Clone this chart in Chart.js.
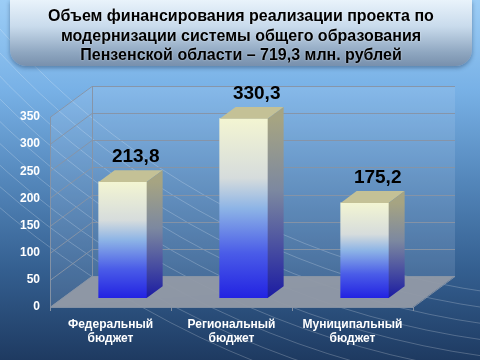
<!DOCTYPE html>
<html lang="ru">
<head>
    <meta charset="UTF-8">
    <title>Объем финансирования</title>
    <script src="https://cdn.jsdelivr.net/npm/chart.js"></script>
    <style>
        html, body {
            margin: 0;
            padding: 0;
        }

        #slide {
            position: relative;
            width: 480px;
            height: 360px;
            overflow: hidden;
            background: linear-gradient(to bottom, #9ccdf6 0%, #78b1e6 25%, #5487bb 50%, #345f90 75%, #1e3a61 100%);
            font-family: "Liberation Sans", Arial, sans-serif;
        }

        #title {
            position: absolute;
            left: 10px;
            top: 0;
            width: 462px;
            height: 66px;
            box-sizing: border-box;
            padding-top: 6px;
            border-radius: 0 0 16px 16px;
            background: linear-gradient(to bottom, #e9f3fb 0%, #c9dbec 40%, #8ea6c0 80%, #7890ad 100%);
            box-shadow: 0 2px 4px rgba(20, 40, 70, 0.4);
            text-align: center;
            font-weight: bold;
            font-size: 16px;
            line-height: 19.7px;
            color: #000;
            text-shadow: 0 0 2px rgba(255, 255, 255, 0.6);
        }

        canvas {
            position: absolute;
            left: 0;
            top: 0;
        }
    </style>
</head>
<body>
<div id="slide">
    <canvas id="fundChart" width="480" height="360"></canvas>
    <div id="title">Объем финансирования реализации проекта по<br>модернизации системы общего образования<br>Пензенской области – 719,3 млн. рублей</div>
</div>

<script>
    // chart data
    const categories = [['Федеральный', 'бюджет'], ['Региональный', 'бюджет'], ['Муниципальный', 'бюджет']];
    const amounts = [213.8, 330.3, 175.2];
    const valueLabels = ['213,8', '330,3', '175,2'];
    const yTicks = [0, 50, 100, 150, 200, 250, 300, 350];

    // 3d look: wall depth and where the bars sit inside it
    const DX = 42, DY = -31;
    const BAR_SHIFT = 0.29, BAR_DEPTH = 0.38;

    function frontGradient(ctx, top, bottom) {
        const g = ctx.createLinearGradient(0, top, 0, bottom);
        g.addColorStop(0, '#f3f5d2');
        g.addColorStop(0.33, '#d6dcdc');
        g.addColorStop(0.5, '#8db4e6');
        g.addColorStop(0.75, '#4a5ce8');
        g.addColorStop(1, '#2222e2');
        return g;
    }

    const swooshes = {
        id: 'swooshes',
        beforeDraw(chart) {
            const ctx = chart.ctx;
            ctx.save();
            ctx.strokeStyle = 'rgba(255,255,255,0.22)';
            ctx.lineWidth = 1;
            for (let i = 0; i < 9; i++) {
                ctx.beginPath();
                ctx.arc(600, -500, 800 + i * 16, Math.PI * 0.5, Math.PI * 0.85);
                ctx.stroke();
            }
            ctx.restore();
        }
    };

    const box3d = {
        id: 'box3d',
        beforeDatasetsDraw(chart) {
            const ctx = chart.ctx;
            const a = chart.chartArea;
            const y = chart.scales.y;
            ctx.save();
            // left wall and back wall
            ctx.fillStyle = 'rgba(210,230,250,0.14)';
            ctx.beginPath();
            ctx.moveTo(a.left, a.top);
            ctx.lineTo(a.left + DX, a.top + DY);
            ctx.lineTo(a.right + DX, a.top + DY);
            ctx.lineTo(a.right + DX, a.bottom + DY);
            ctx.lineTo(a.left, a.bottom);
            ctx.closePath();
            ctx.fill();
            // floor
            ctx.fillStyle = 'rgba(146,154,166,0.95)';
            ctx.beginPath();
            ctx.moveTo(a.left, a.bottom);
            ctx.lineTo(a.right, a.bottom);
            ctx.lineTo(a.right + DX, a.bottom + DY);
            ctx.lineTo(a.left + DX, a.bottom + DY);
            ctx.closePath();
            ctx.fill();
            // grid lines
            ctx.strokeStyle = 'rgba(135,148,165,0.95)';
            ctx.lineWidth = 1;
            yTicks.forEach(v => {
                const py = Math.round(y.getPixelForValue(v)) + 0.5;
                ctx.beginPath();
                ctx.moveTo(a.left, py);
                ctx.lineTo(a.left + DX, py + DY);
                ctx.lineTo(a.right + DX, py + DY);
                ctx.stroke();
            });
            ctx.beginPath();
            ctx.moveTo(a.left + 0.5, a.top);
            ctx.lineTo(a.left + 0.5, a.bottom + 4);
            ctx.moveTo(a.left + DX + 0.5, a.top + DY);
            ctx.lineTo(a.left + DX + 0.5, a.bottom + DY);
            ctx.moveTo(a.left, a.bottom + 0.5);
            ctx.lineTo(a.right, a.bottom + 0.5);
            ctx.lineTo(a.right + DX, a.bottom + DY + 0.5);
            ctx.stroke();
            // category separators on the front edge
            for (let i = 0; i <= categories.length; i++) {
                const px = Math.round(a.left + (a.right - a.left) * i / categories.length) + 0.5;
                ctx.beginPath();
                ctx.moveTo(px, a.bottom);
                ctx.lineTo(px, a.bottom + 4);
                ctx.stroke();
            }
            // move bars into the middle of the box
            ctx.restore();
            ctx.save();
            ctx.translate(DX * BAR_SHIFT, DY * BAR_SHIFT);
        },
        afterDatasetsDraw(chart) {
            const ctx = chart.ctx;
            const bdx = DX * BAR_DEPTH, bdy = DY * BAR_DEPTH;
            chart.getDatasetMeta(0).data.forEach((bar, i) => {
                const l = bar.x - bar.width / 2, r = bar.x + bar.width / 2;
                // top face
                ctx.fillStyle = '#c4c196';
                ctx.beginPath();
                ctx.moveTo(l, bar.y);
                ctx.lineTo(r, bar.y);
                ctx.lineTo(r + bdx, bar.y + bdy);
                ctx.lineTo(l + bdx, bar.y + bdy);
                ctx.closePath();
                ctx.fill();
                // side face
                const g = ctx.createLinearGradient(0, bar.y, 0, bar.base);
                g.addColorStop(0, '#a6a482');
                g.addColorStop(0.4, '#7c88a0');
                g.addColorStop(1, '#1b1ba2');
                ctx.fillStyle = g;
                ctx.beginPath();
                ctx.moveTo(r, bar.y);
                ctx.lineTo(r + bdx, bar.y + bdy);
                ctx.lineTo(r + bdx, bar.base + bdy);
                ctx.lineTo(r, bar.base);
                ctx.closePath();
                ctx.fill();
                // value label
                ctx.fillStyle = '#000';
                ctx.font = 'bold 19px "Liberation Sans", Arial, sans-serif';
                ctx.textAlign = 'center';
                ctx.textBaseline = 'middle';
                ctx.fillText(valueLabels[i], bar.x + 13, bar.y - 25);
            });
            ctx.restore();
        }
    };

    new Chart(document.getElementById('fundChart'), {
        type: 'bar',
        data: {
            labels: categories,
            datasets: [{
                data: amounts,
                barThickness: 48,
                borderWidth: 0,
                backgroundColor: (c) => {
                    const y = c.chart.scales.y;
                    if (!y || c.raw === undefined) return '#4a5ce8';
                    const top = y.getPixelForValue(c.raw), bottom = y.getPixelForValue(0);
                    if (!isFinite(top) || !isFinite(bottom) || top === bottom) return '#4a5ce8';
                    return frontGradient(c.chart.ctx, top, bottom);
                }
            }]
        },
        options: {
            responsive: false,
            animation: false,
            devicePixelRatio: 1,
            layout: {
                padding: {top: 117, right: 67, left: 0, bottom: 0}
            },
            plugins: {
                legend: {display: false},
                tooltip: {enabled: false}
            },
            scales: {
                x: {
                    grid: {display: false, drawTicks: false},
                    border: {display: false},
                    ticks: {
                        color: '#ffffff',
                        padding: 11,
                        font: {family: '"Liberation Sans", Arial, sans-serif', size: 12, weight: 'bold', lineHeight: 1.17}
                    },
                    afterFit: (s) => { s.height = 53; }
                },
                y: {
                    min: 0,
                    max: 350,
                    grid: {display: false, drawTicks: false},
                    border: {display: false},
                    afterBuildTicks: (s) => { s.ticks = yTicks.map(v => ({value: v})); },
                    ticks: {
                        color: '#ffffff',
                        padding: 10,
                        font: {family: '"Liberation Sans", Arial, sans-serif', size: 12, weight: 'bold'}
                    },
                    afterFit: (s) => { s.width = 50; }
                }
            }
        },
        plugins: [swooshes, box3d]
    });
</script>
</body>
</html>
